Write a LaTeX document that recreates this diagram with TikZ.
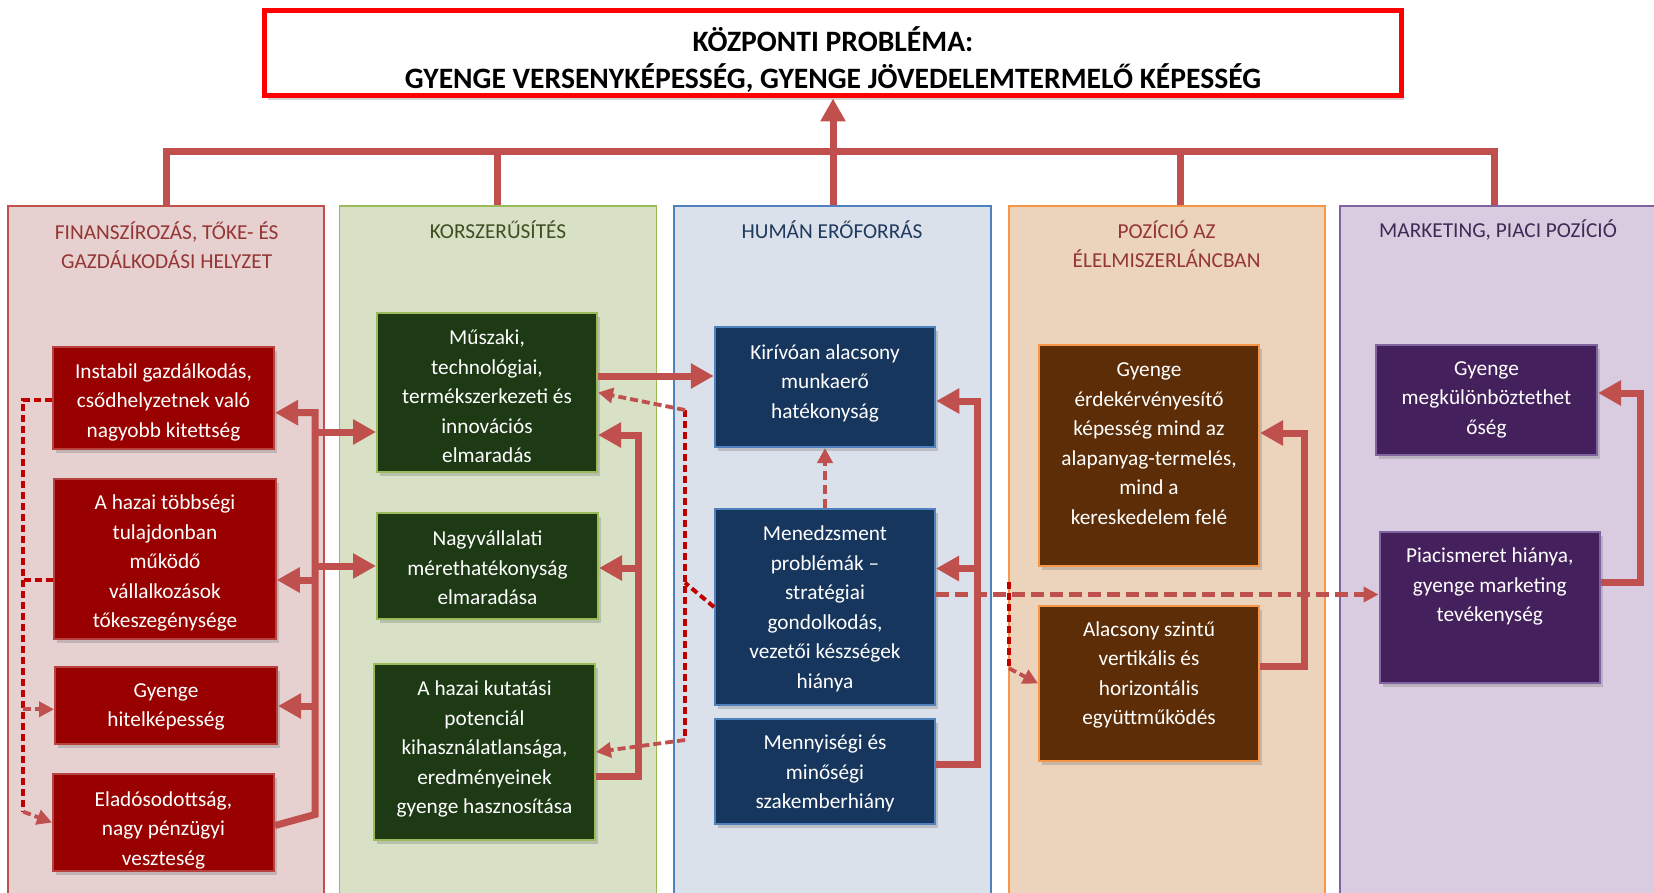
\documentclass[tikz,border=0pt]{standalone}
\usepackage{fontspec}
\setmainfont{Carlito}
\usetikzlibrary{arrows.meta,shadows}
\definecolor{acc}{HTML}{C0504D}
\definecolor{dred}{HTML}{C00000}
\definecolor{bgA}{HTML}{E6D0D0}\definecolor{bdA}{HTML}{C0504D}
\definecolor{bgB}{HTML}{D8E1C6}\definecolor{bdB}{HTML}{9BBB59}
\definecolor{bgC}{HTML}{DBE1EA}\definecolor{bdC}{HTML}{4F81BD}
\definecolor{bgD}{HTML}{ECD3BC}\definecolor{bdD}{HTML}{F79646}
\definecolor{bgE}{HTML}{D9CCE0}\definecolor{bdE}{HTML}{8064A2}
\definecolor{fA}{HTML}{990000}\definecolor{lA}{HTML}{B8423F}
\definecolor{fB}{HTML}{1D3A15}
\definecolor{fC}{HTML}{17365D}
\definecolor{fD}{HTML}{5C2D06}
\definecolor{fE}{HTML}{44205C}
\definecolor{hA}{HTML}{943634}\definecolor{hB}{HTML}{3F4F22}\definecolor{hC}{HTML}{1F3A5F}
\definecolor{hD}{HTML}{943634}\definecolor{hE}{HTML}{3F2A55}
\newcommand\bodyfnt{\fontsize{21.3}{29.5}\selectfont}
\newcommand\headfnt{\fontsize{21.3}{29.5}\selectfont}
\newcommand\titlefnt{\fontsize{29.6}{37.5}\selectfont\bfseries}
\tikzset{
  colbg/.style 2 args={fill=#1, draw=#2, line width=1.5pt, minimum width=316pt, minimum height=700pt, anchor=north, inner sep=0pt},
  pbox/.style 2 args={fill=#1, draw=#2, line width=2pt, inner sep=0pt, drop shadow={opacity=0.35, shadow xshift=3pt, shadow yshift=-4pt}},
  txt/.style={text=white, align=center, font=\bodyfnt, inner sep=0pt},
  head/.style={text=#1, align=center, font=\headfnt, inner sep=0pt},
  thk/.style={draw=acc, line width=7pt},
  thkarr/.style={thk, -{Triangle[length=23pt, width=24pt]}},
  dsh/.style={draw=acc, line width=4.5pt, dash pattern=on 13pt off 6pt, -{Triangle[length=15pt,width=15pt]}},
  dsh2/.style={draw=acc, line width=3.8pt, dash pattern=on 8pt off 4pt, -{Triangle[length=15pt,width=15pt]}},
  dtr/.style={draw=dred, line width=4pt, dash pattern=on 7pt off 4pt},
}
\begin{document}
\begin{tikzpicture}[x=1pt,y=-1pt]
\useasboundingbox (0,0) rectangle (1654,893);
\clip (0,0) rectangle (1654,893);
% columns
\node[colbg={bgA}{bdA}] (C1) at (166,205.5) {};
\node[colbg={bgB}{bdB}, minimum width=317pt] (C2) at (498,205.5) {};
\node[colbg={bgC}{bdC}, minimum width=317pt] (C3) at (832.5,205.5) {};
\node[colbg={bgD}{bdD}] (C4) at (1167,205.5) {};
\node[colbg={bgE}{bdE}, minimum width=330pt] (C5) at (1505,205.5) {};
% headers
\node[head=hA] (H1) at (166.7,245) {FINANSZÍROZÁS, TŐKE- ÉS\\GAZDÁLKODÁSI HELYZET};
\node[head=hB] (H2) at (498,230) {KORSZERŰSÍTÉS};
\node[head=hC] (H3) at (832,229.5) {HUMÁN ERŐFORRÁS};
\node[head=hD] (H4) at (1166.6,244) {POZÍCIÓ AZ\\ÉLELMISZERLÁNCBAN};
\node[head=hE] (H5) at (1498,229.5) {MARKETING, PIACI POZÍCIÓ};
% title
\node[draw=red, line width=5pt, fill=white, minimum width=1136.5pt, minimum height=85.5pt, inner sep=0pt,
      drop shadow={opacity=0.35, shadow xshift=3pt, shadow yshift=-4pt}] (title) at (832.75,53.25) {};
\node[font=\titlefnt, align=center, inner sep=0pt] (titleT) at (833,59.5) {KÖZPONTI PROBLÉMA:\\GYENGE VERSENYKÉPESSÉG, GYENGE JÖVEDELEMTERMELŐ KÉPESSÉG};
% tree
\coordinate (T1) at (166.8,151.5);
\coordinate (T2) at (497.6,151.5);
\coordinate (T3) at (833,151.5);
\coordinate (T4) at (1180.6,151.5);
\coordinate (T5) at (1494.5,151.5);
\draw[thk] (T1 |- C1.north) -- (T1) -- (T5) -- (T5 |- C5.north);
\draw[thk] (T2) -- (T2 |- C2.north);
\draw[thk] (T4) -- (T4 |- C4.north);
\draw[thkarr] (T3 |- C3.north) -- (T3 |- title.south);
% column 1 boxes
\node[pbox={fA}{lA}, minimum width=221pt, minimum height=102pt] (inst) at (163.5,398) {};
\node[txt] (instT) at (163.5,402) {Instabil gazdálkodás,\\csődhelyzetnek való\\nagyobb kitettség};
\node[pbox={fA}{lA}, minimum width=221.5pt, minimum height=160pt] (tobb) at (165,559) {};
\node[txt] (tobbT) at (165,563) {A hazai többségi\\tulajdonban\\működő\\vállalkozások\\tőkeszegénysége};
\node[pbox={fA}{lA}, minimum width=222pt, minimum height=77pt] (hitel) at (166,705.5) {};
\node[txt] (hitelT) at (166,707) {Gyenge\\hitelképesség};
\node[pbox={fA}{lA}, minimum width=221pt, minimum height=97pt] (elad) at (163.5,822.5) {};
\node[txt] (eladT) at (163.5,830) {Eladósodottság,\\nagy pénzügyi\\veszteség};
% column 2 boxes
\node[pbox={fB}{bdB}, minimum width=220pt, minimum height=159pt] (musz) at (487,392.5) {};
\node[txt] (muszT) at (487,396.6) {Műszaki,\\technológiai,\\termékszerkezeti és\\innovációs\\elmaradás};
\node[pbox={fB}{bdB}, minimum width=221pt, minimum height=106pt] (nagy) at (487.5,566) {};
\node[txt] (nagyT) at (487.5,568) {Nagyvállalati\\mérethatékonyság\\elmaradása};
\node[pbox={fB}{bdB}, minimum width=221pt, minimum height=176pt] (kut) at (484.5,752) {};
\node[txt] (kutT) at (484.5,749) {A hazai kutatási\\potenciál\\kihasználatlansága,\\eredményeinek\\gyenge hasznosítása};
% column 3 boxes
\node[pbox={fC}{bdC}, minimum width=220.5pt, minimum height=120pt] (kir) at (825,387) {};
\node[txt] (kirT) at (825,383) {Kirívóan alacsony\\munkaerő\\hatékonyság};
\node[pbox={fC}{bdC}, minimum width=220pt, minimum height=196pt] (men) at (825,607) {};
\node[txt] (menT) at (825,608.6) {Menedzsment\\problémák –\\stratégiai\\gondolkodás,\\vezetői készségek\\hiánya};
\node[pbox={fC}{bdC}, minimum width=220pt, minimum height=105pt] (menny) at (825,771) {};
\node[txt] (mennyT) at (825,773.6) {Mennyiségi és\\minőségi\\szakemberhiány};
% column 4 boxes
\node[pbox={fD}{bdD}, minimum width=220pt, minimum height=220.6pt] (erd) at (1149,455.3) {};
\node[txt] (erdT) at (1149,443.5) {Gyenge\\érdekérvényesítő\\képesség mind az\\alapanyag-termelés,\\mind a\\kereskedelem felé};
\node[pbox={fD}{bdD}, minimum width=220pt, minimum height=155pt] (ala) at (1149,683.5) {};
\node[txt] (alaT) at (1149,675) {Alacsony szintű\\vertikális és\\horizontális\\együttműködés};
% column 5 boxes
\node[pbox={fE}{bdE}, minimum width=221pt, minimum height=110pt] (megk) at (1486.5,400) {};
\node[txt] (megkT) at (1486.5,399.6) {Gyenge\\megkülönböztethet\\őség};
\node[pbox={fE}{bdE}, minimum width=220.5pt, minimum height=151pt] (piac) at (1489.75,607.5) {};
\node[txt] (piacT) at (1489.75,586.5) {Piacismeret hiánya,\\gyenge marketing\\tevékenység};
% thick connectors column 1
\coordinate (b00) at (300,825.5);
\coordinate (b0) at (315,814.5);
\coordinate (b1) at (315,412.7);
\coordinate (b2) at (315,580);
\coordinate (b3) at (315,706);
\coordinate (b4) at (315,432);
\coordinate (b5) at (315,566);
\draw[thkarr] (b00 -| elad.east) -- (b0) -- (b1) -- (b1 -| inst.east);
\draw[thkarr] (b2) -- (b2 -| tobb.east);
\draw[thkarr] (b3) -- (b3 -| hitel.east);
\draw[thkarr] (b4) -- (b4 -| musz.west);
\draw[thkarr] (b5) -- (b5 -| nagy.west);
% column 2
\coordinate (c0) at (638.4,776);
\coordinate (c1) at (638.4,435);
\coordinate (c2) at (638.4,568);
\draw[thkarr] (c0 -| kut.east) -- (c0) -- (c1) -- (c1 -| musz.east);
\draw[thkarr] (c2) -- (c2 -| nagy.east);
\coordinate (m0) at (650,376);
\draw[thkarr] (m0 -| musz.east) -- (m0 -| kir.west);
% column 3
\coordinate (d0) at (977,764.5);
\coordinate (d1) at (977,401);
\coordinate (d2) at (977,568.5);
\draw[thkarr] (d0 -| menny.east) -- (d0) -- (d1) -- (d1 -| kir.east);
\draw[thkarr] (d2) -- (d2 -| men.east);
% column 4
\coordinate (e0) at (1304.6,666);
\coordinate (e1) at (1304.6,433);
\draw[thkarr] (e0 -| ala.east) -- (e0) -- (e1) -- (e1 -| erd.east);
% column 5
\coordinate (f0) at (1640,582);
\coordinate (f1) at (1640,393);
\draw[thkarr] (f0 -| piac.east) -- (f0) -- (f1) -- (f1 -| megk.east);
% dashed: left trunk
\coordinate (l0) at (23.3,400);
\coordinate (l1) at (23.3,811.7);
\coordinate (l2) at (23.3,580);
\coordinate (l3) at (23.3,709.3);
\draw[dtr] (l0 -| inst.west) -- (l0) -- (l1);
\draw[dtr] (l2 -| tobb.west) -- (l2);
\draw[dsh2] (l3) -- (l3 -| hitel.west);
\draw[dsh2] (l1) -- (elad.west);
% dashed: middle trunk
\coordinate (g1) at (685,582.7);
\coordinate (g2) at (685,410);
\coordinate (g3) at (685,740);
\draw[dtr] (men.west) -- (g1);
\draw[dtr] (g2) -- (g3);
\draw[dsh2] (g2) -- (musz.east);
\draw[dsh2] (g3) -- (kut.east);
% dashed: management
\draw[dsh, dash pattern=on 9pt off 5pt] (men.north) -- (kir.south);
\coordinate (p0) at (950,594.5);
\draw[dsh] (p0 -| men.east) -- (p0 -| piac.west);
\coordinate (k0) at (1009,581.7);
\coordinate (k1) at (1009,668.3);
\draw[dtr] (k0) -- (k1);
\draw[dsh2] (k1) -- (ala.west);
\end{tikzpicture}
\end{document}
